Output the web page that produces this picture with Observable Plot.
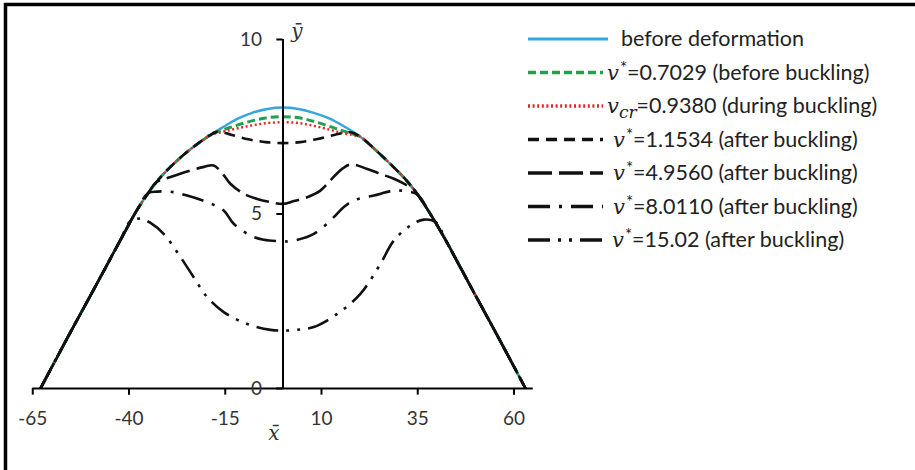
<!DOCTYPE html>
<html>
<head>
<meta charset="utf-8">
<script src="https://cdn.jsdelivr.net/npm/d3@7"></script>
<script src="https://cdn.jsdelivr.net/npm/@observablehq/plot@0.6"></script>
<style>
  html, body { margin: 0; padding: 0; background: #fff; }
  #chart { position: relative; width: 915px; height: 470px; }
  #chart svg { display: block; }
</style>
</head>
<body>
<div id="chart"></div>
<script>
// Axis ticks
const xTicks = [-65, -40, -15, 10, 35, 60];
const yTicks = [0, 5, 10];

// Outer arch: the undeformed shape (before deformation)
const archX = [-63, -56, -49, -42, -38, -35, -32, -28, -24, -20, -16, -12, -8, -4, 0,
               4, 8, 12, 16, 20, 24, 28, 32, 35, 38, 42, 49, 56, 63];
const archY = [0, 1.45, 2.87, 4.3, 5.1, 5.6, 6.03, 6.48, 6.86, 7.18, 7.46, 7.72, 7.9, 8.01, 8.05,
               8.01, 7.9, 7.74, 7.5, 7.22, 6.84, 6.42, 5.97, 5.55, 5.05, 4.3, 2.87, 1.45, 0];

// Deformed shapes: only the part that leaves the outer arch is listed
const v07029X = [-19, -14, -9, -4.5, 0, 4.5, 9, 14, 19];
const v07029Y = [7.27, 7.47, 7.64, 7.75, 7.79, 7.75, 7.62, 7.44, 7.26];

const vcrX = [-19, -14, -9, -4.5, 0, 4.5, 9, 14, 19];
const vcrY = [7.25, 7.4, 7.52, 7.6, 7.63, 7.6, 7.5, 7.36, 7.24];

const v11534X = [-17, -13.5, -9, -4.5, 0, 4.5, 9, 13.5, 17.5];
const v11534Y = [7.36, 7.27, 7.14, 7.06, 7.03, 7.06, 7.15, 7.27, 7.34];

const v49560X = [-33, -29.2, -24, -20.5, -18, -15.3, -13.6, -10.2, -6.7, -3.2, 0, 2.8, 6.3, 9.7,
                 12.3, 14.9, 17.5, 21.9, 25.3, 28.8, 31.4, 34];
const v49560Y = [5.9, 6.06, 6.25, 6.35, 6.39, 6.1, 5.86, 5.58, 5.43, 5.34, 5.29, 5.37, 5.48, 5.67,
                 5.96, 6.25, 6.42, 6.29, 6.15, 6.01, 5.87, 5.7];

const v80110X = [-32.7, -29.2, -24.9, -19.7, -15.4, -12.8, -8.4, -5, 0, 1.9, 8, 13.2, 15.8, 18.4,
                 23.6, 28.8, 32.3];
const v80110Y = [5.64, 5.64, 5.53, 5.34, 5.1, 4.72, 4.38, 4.26, 4.22, 4.22, 4.43, 4.91, 5.2, 5.39,
                 5.53, 5.67, 5.65];

const v1502X = [-40, -37, -34.5, -31, -26.6, -23.2, -19.7, -15.4, -9.3, -3.2, 0, 3.5, 8, 14.1,
                20.1, 25.3, 28.8, 33.1, 36.6, 40];
const v1502Y = [4.75, 4.87, 4.75, 4.43, 3.76, 3.19, 2.62, 2.19, 1.85, 1.68, 1.66, 1.68, 1.76, 2.14,
                2.71, 3.57, 4.24, 4.67, 4.84, 4.74];

// Legend text
const legendVar  = ["", "v", "v", "v", "v", "v", "v"];
const legendSup  = ["", "*", "", "*", "*", "*", "*"];
const legendSub  = ["", "", "cr", "", "", "", ""];
const legendRest = ["before deformation", "=0.7029 (before buckling)", "=0.9380 (during buckling)",
                    "=1.1534 (after buckling)", "=4.9560 (after buckling)",
                    "=8.0110 (after buckling)", "=15.02 (after buckling)"];

// Line styles per series
const colors  = ["#35a6dc", "#23a04e", "#e0252b", "#111", "#111", "#111", "#111"];
const dashes  = [null, "8,4", "2,2.6", "11,7", "24,7", "22,9,3,9", "22,8,3,8,3,8"];
const widths  = [2.4, 3, 2.4, 2.6, 2.6, 2.6, 2.6];

// A deformed shape follows the arch outside its listed segment
function withArch(xs, ys) {
  const pts = [];
  archX.forEach((x, i) => { if (x < xs[0]) pts.push({x, y: archY[i]}); });
  xs.forEach((x, i) => pts.push({x, y: ys[i]}));
  archX.forEach((x, i) => { if (x > xs[xs.length - 1]) pts.push({x, y: archY[i]}); });
  return pts;
}

const series = [
  archX.map((x, i) => ({x, y: archY[i]})),
  withArch(v07029X, v07029Y),
  withArch(vcrX, vcrY),
  withArch(v11534X, v11534Y),
  withArch(v49560X, v49560Y),
  withArch(v80110X, v80110Y),
  withArch(v1502X, v1502Y)
];

const axisColor = "#000";
const labelColor = "#333";

const plot = Plot.plot({
  width: 915,
  height: 470,
  marginLeft: 32.25,
  marginRight: 382.25,
  marginTop: 39,
  marginBottom: 82,
  x: {domain: [-65, 65], axis: null},
  y: {domain: [0, 10], axis: null},
  style: {fontFamily: "Lato, 'Open Sans', sans-serif", background: "white", overflow: "visible"},
  marks: [
    // curves
    ...series.map((data, i) => Plot.line(data, {
      x: "x", y: "y",
      curve: "catmull-rom",
      stroke: colors[i],
      strokeWidth: widths[i],
      strokeDasharray: dashes[i] ?? undefined,
      strokeLinecap: "butt"
    })),
    // axes crossing at the origin
    Plot.ruleY([0], {x1: -65, x2: 65, stroke: axisColor, strokeWidth: 2}),
    Plot.ruleX([0], {y1: 0, y2: 10, stroke: axisColor, strokeWidth: 2}),
    Plot.ruleX(xTicks, {x: d => d, y1: 0, y2: -0.19, stroke: axisColor, strokeWidth: 2}),
    Plot.ruleY(yTicks, {y: d => d, x1: -1.6, x2: 0, stroke: axisColor, strokeWidth: 2}),
    Plot.text(xTicks, {x: d => d, y: 0, dy: 30, text: d => String(d),
      fontSize: 19, fill: labelColor}),
    Plot.text(yTicks, {x: 0, y: d => d, dx: -21, textAnchor: "end", text: d => String(d),
      fontSize: 19, fill: labelColor}),
    // axis names
    Plot.text(["x\u0304"], {x: 0, y: 0, dx: -9, dy: 45, text: d => d,
      fontSize: 20, fontStyle: "italic", fontFamily: "'DejaVu Serif', serif", fill: labelColor}),
    Plot.text(["y\u0304"], {x: 0, y: 10, dx: 14, dy: -8, text: d => d,
      fontSize: 20, fontStyle: "italic", fontFamily: "'DejaVu Serif', serif", fill: labelColor})
  ]
});

document.getElementById("chart").appendChild(plot);

// Legend and frame drawn onto the same SVG
const svg = d3.select(plot);

svg.append("line").attr("x1", 4).attr("x2", 915).attr("y1", 4.5).attr("y2", 4.5)
  .attr("stroke", "#000").attr("stroke-width", 3.5);
svg.append("line").attr("x1", 5.5).attr("x2", 5.5).attr("y1", 3).attr("y2", 470)
  .attr("stroke", "#000").attr("stroke-width", 3.5);

const legend = svg.append("g").attr("class", "legend").attr("text-anchor", "start");
const rowTop = 39, rowStep = 33.5;
const textStart = [621, 607, 607, 613, 613, 613, 612];
legendRest.forEach((rest, i) => {
  const cy = rowTop + i * rowStep;
  legend.append("line")
    .attr("x1", 528).attr("x2", i === 0 ? 608 : 603).attr("y1", cy).attr("y2", cy)
    .attr("stroke", colors[i]).attr("stroke-width", i === 0 ? 3 : 3.4)
    .attr("stroke-dasharray", dashes[i]);
  const t = legend.append("text")
    .attr("x", textStart[i]).attr("y", cy + 7)
    .attr("text-anchor", "start")
    .attr("font-family", "Lato, 'Open Sans', sans-serif")
    .attr("font-size", 21.5).attr("fill", "#222");
  if (legendVar[i]) {
    t.append("tspan").text(legendVar[i])
      .attr("font-family", "'DejaVu Serif', serif").attr("font-style", "italic").attr("font-size", 21);
    if (legendSup[i]) {
      t.append("tspan").text(legendSup[i]).attr("dy", -6).attr("dx", 1).attr("font-size", 17);
      t.append("tspan").text(rest).attr("dy", 6);
    } else {
      t.append("tspan").text(legendSub[i]).attr("dy", 5)
        .attr("font-family", "'DejaVu Serif', serif").attr("font-style", "italic").attr("font-size", 17);
      t.append("tspan").text(rest).attr("dy", -5);
    }
  } else {
    t.append("tspan").text(rest);
  }
});
</script>
</body>
</html>
